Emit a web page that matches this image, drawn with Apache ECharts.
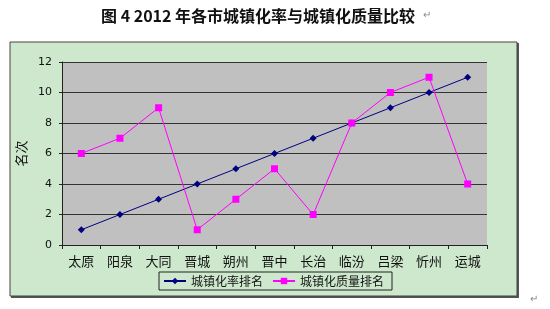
<!DOCTYPE html>
<html>
<head>
<meta charset="UTF-8">
<script src="https://cdn.jsdelivr.net/npm/echarts@6/dist/echarts.min.js"></script>
<style>
body { margin: 0; background: #fff; }
#main { width: 550px; height: 309px; }
</style>
</head>
<body>
<div id="main"></div>
<script type="text/javascript">
// 城市
var cities = ['太原', '阳泉', '大同', '晋城', '朔州', '晋中', '长治', '临汾', '吕梁', '忻州', '运城'];
// 城镇化率排名
var rateRank = [1, 2, 3, 4, 5, 6, 7, 8, 9, 10, 11];
// 城镇化质量排名
var qualityRank = [6, 7, 9, 1, 3, 5, 2, 8, 10, 11, 4];
var yTicks = [0, 2, 4, 6, 8, 10, 12];

var font = '"Noto Sans CJK SC", sans-serif';
var myChart = echarts.init(document.getElementById('main'));

var option = {
	backgroundColor: '#fff',
	animation: false,
	title: {
		text: '图 4 2012 年各市城镇化率与城镇化质量比较',
		left: 96,
		top: 3,
		textStyle: { fontFamily: font, fontSize: 16, fontWeight: 'bold', color: '#111' }
	},
	graphic: [
		// 外框
		{ type: 'rect', z: -10, shape: { x: 11, y: 43, width: 508, height: 255 }, style: { fill: '#555' } },
		{ type: 'rect', z: -9, shape: { x: 10, y: 42, width: 507, height: 254 }, style: { fill: '#cde8cc', stroke: '#444', lineWidth: 1 } },
		{ type: 'text', left: 423, top: 10, style: { text: '↵', fill: '#888', fontSize: 10 } },
		{ type: 'text', left: 530, top: 294, style: { text: '↵', fill: '#888', fontSize: 10 } }
	],
	grid: { left: 62, top: 62, right: 63, bottom: 64, show: true, backgroundColor: '#c0c0c0', borderWidth: 0 },
	legend: {
		data: ['城镇化率排名', '城镇化质量排名'],
		left: 159,
		top: 272,
		padding: [3, 8, 3, 4],
		itemGap: 9,
		itemWidth: 22,
		itemHeight: 8,
		borderColor: '#222',
		borderWidth: 1,
		textStyle: { fontFamily: font, fontSize: 12, color: '#111' }
	},
	xAxis: {
		type: 'category',
		data: cities,
		boundaryGap: true,
		axisLine: { lineStyle: { color: '#222', width: 1 } },
		axisTick: { show: true, inside: false, length: 4, lineStyle: { color: '#222' } },
		axisLabel: { fontFamily: font, fontSize: 13, color: '#111', margin: 10 }
	},
	yAxis: {
		type: 'value',
		min: yTicks[0],
		max: yTicks[yTicks.length - 1],
		interval: 2,
		name: '名次',
		nameLocation: 'middle',
		nameGap: 26,
		nameTextStyle: { fontFamily: font, fontSize: 13, color: '#111' },
		axisLine: { show: true, lineStyle: { color: '#222' } },
		axisTick: { show: true, length: 3, lineStyle: { color: '#222' } },
		axisLabel: { fontFamily: 'Verdana, "DejaVu Sans", sans-serif', fontSize: 11, color: '#111', margin: 10 },
		splitLine: { lineStyle: { color: '#333', width: 1 } }
	},
	series: [{
		name: '城镇化率排名',
		type: 'line',
		data: rateRank,
		symbol: 'diamond',
		symbolSize: 7,
		itemStyle: { color: '#000080' },
		lineStyle: { color: '#000080', width: 1 }
	}, {
		name: '城镇化质量排名',
		type: 'line',
		data: qualityRank,
		symbol: 'rect',
		symbolSize: 7,
		itemStyle: { color: '#ff00ff' },
		lineStyle: { color: '#ff00ff', width: 1 }
	}]
};

myChart.setOption(option);
</script>
</body>
</html>
